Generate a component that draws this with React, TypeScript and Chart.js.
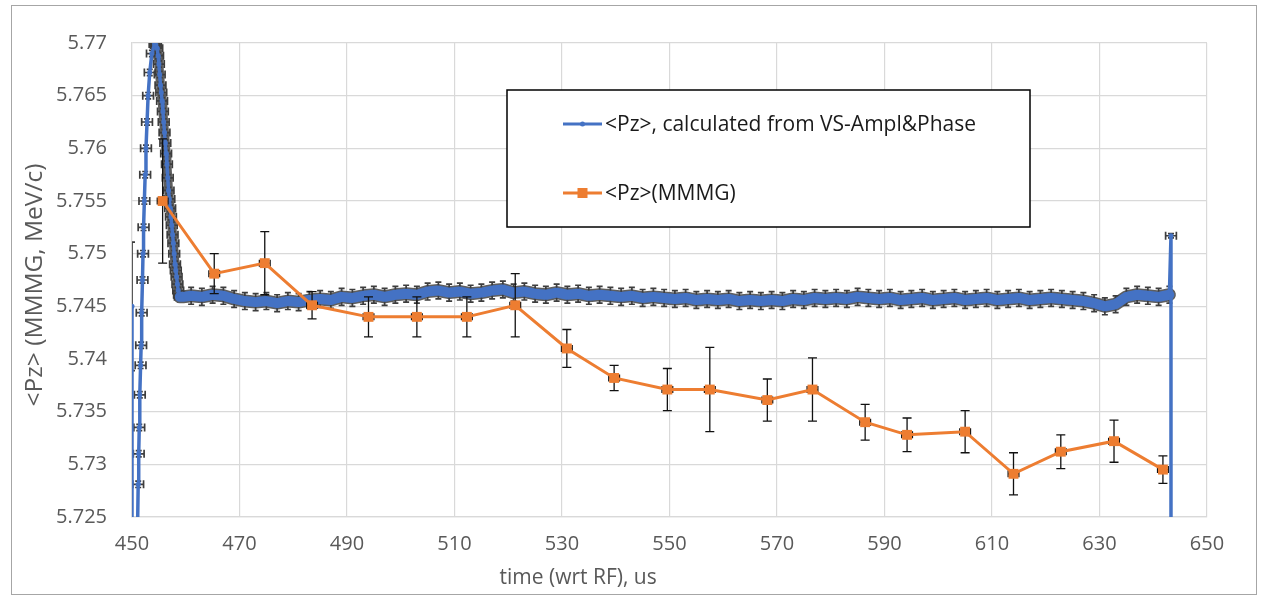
import React, { useEffect, useRef } from "react";
import { Chart, registerables } from "chart.js";

Chart.register(...registerables);

// ---------- data ----------
const xTicks = [450, 470, 490, 510, 530, 550, 570, 590, 610, 630, 650];
const xTickLabels = ["450", "470", "490", "510", "530", "550", "570", "590", "610", "630", "650"];
const yTicks = [5.725, 5.73, 5.735, 5.74, 5.745, 5.75, 5.755, 5.76, 5.765, 5.77];
const yTickLabels = ["5.725", "5.73", "5.735", "5.74", "5.745", "5.75", "5.755", "5.76", "5.765", "5.77"];

const seriesNames = ["<Pz>, calculated from VS-Ampl&Phase", "<Pz>(MMMG)"];
const xAxisTitle = "time (wrt RF), us";
const yAxisTitle = "<Pz> (MMMG, MeV/c)";

// <Pz> calculated from VS-Ampl&Phase
// start of the record
const startX = [450, 450, 451.0];
const startY = [5.745, 5.70, 5.715];
const startErrX = [0, 0, 0];
const startErrY = [0.0061, 0, 0];

// rising edge and peak
const riseX = [
  451.05, 451.15, 451.25, 451.35, 451.45, 451.6, 451.7, 451.8,
  451.95, 452.05, 452.15, 452.3, 452.45, 452.6, 452.8,
  453.0, 453.3, 453.7, 454.2,
];
const riseY = [
  5.7245, 5.7281, 5.731, 5.7335, 5.7366, 5.7394, 5.7413, 5.7444,
  5.7475, 5.75, 5.7525, 5.755, 5.7575, 5.76, 5.7625,
  5.765, 5.7672, 5.769, 5.7699,
];
// falling edge
const fallX = [
  454.45, 454.7, 454.85, 455.0, 455.15, 455.3, 455.45, 455.6, 455.75, 455.9, 456.05, 456.2, 456.35, 456.5, 456.65,
  456.8, 456.95, 457.1, 457.25, 457.4, 457.55, 457.7, 457.85, 458.0, 458.15, 458.3, 458.45, 458.6, 458.75, 458.9,
  459.5,
];
const fallY = [
  5.7698, 5.7695, 5.7688, 5.768, 5.767, 5.766, 5.7653, 5.7645, 5.7635, 5.7625, 5.7615, 5.7605, 5.7595, 5.7585, 5.7572,
  5.756, 5.7552, 5.7543, 5.7535, 5.7527, 5.7518, 5.751, 5.75, 5.749, 5.7484, 5.7478, 5.7471, 5.7465, 5.7461, 5.7459,
  5.7459,
];
const spikeErrX = 1.0;
const spikeErrY = 0.0003;

// flat (noisy) part
const flatX = [
  461, 463, 465, 467, 469, 471, 473, 475, 477, 479,
  481, 483, 485, 487, 489, 491, 493, 495, 497, 499,
  501, 503, 505, 507, 509, 511, 513, 515, 517, 519,
  521, 523, 525, 527, 529, 531, 533, 535, 537, 539,
  541, 543, 545, 547, 549, 551, 553, 555, 557, 559,
  561, 563, 565, 567, 569, 571, 573, 575, 577, 579,
  581, 583, 585, 587, 589, 591, 593, 595, 597, 599,
  601, 603, 605, 607, 609, 611, 613, 615, 617, 619,
  621, 623, 625, 627, 629, 631, 633, 635, 637, 639,
  641, 643,
];
const flatY = [
  5.746, 5.7459, 5.7461, 5.746, 5.7457, 5.7455, 5.7454, 5.7455, 5.7453, 5.7455,
  5.7454, 5.7456, 5.7457, 5.7456, 5.7459, 5.7458, 5.746, 5.7461, 5.7459, 5.7461,
  5.7462, 5.7461, 5.7464, 5.7465, 5.7463, 5.7464, 5.7462, 5.7463, 5.7465, 5.7466,
  5.7463, 5.7464, 5.7462, 5.7461, 5.7463, 5.7461, 5.7462, 5.746, 5.7461, 5.746,
  5.7459, 5.746, 5.7458, 5.7459, 5.7458, 5.7457, 5.7458, 5.7456, 5.7457, 5.7456,
  5.7457, 5.7455, 5.7456, 5.7455, 5.7456, 5.7455, 5.7457, 5.7456, 5.7458, 5.7457,
  5.7458, 5.7457, 5.7459, 5.7458, 5.7457, 5.7458, 5.7456, 5.7457, 5.7458, 5.7456,
  5.7457, 5.7458, 5.7456, 5.7457, 5.7458, 5.7456, 5.7457, 5.7458, 5.7456, 5.7457,
  5.7458, 5.7457, 5.7456, 5.7455, 5.7453, 5.745, 5.7452, 5.7459, 5.7461, 5.746,
  5.7459, 5.7461,
];
const flatErrY = 0.0008;

// end of the record
const endX = [643.3, 643.3];
const endY = [5.7517, 5.70];
const endErrX = [1.0, 0];
const endErrY = [0.0002, 0];

// <Pz>(MMMG)
const orangeX = [455.7, 465.3, 474.7, 483.5, 494.0, 503.0, 512.3, 521.3, 530.9, 539.7, 549.6, 557.5, 568.2, 576.6, 586.4, 594.2, 605.0, 614.0, 622.8, 632.7, 641.8];
const orangeY = [5.755, 5.7481, 5.7491, 5.7451, 5.744, 5.744, 5.744, 5.7451, 5.741, 5.7382, 5.7371, 5.7371, 5.7361, 5.7371, 5.734, 5.7328, 5.7331, 5.7291, 5.7312, 5.7322, 5.7295];
const orangeErrY = [0.0059, 0.0019, 0.003, 0.0013, 0.0019, 0.0019, 0.0019, 0.003, 0.0018, 0.0012, 0.002, 0.004, 0.002, 0.003, 0.0017, 0.0016, 0.002, 0.002, 0.0016, 0.002, 0.0013];
const orangeErrX = 1.0;

const BLUE = "#4472C4";
const ORANGE = "#ED7D31";
const PEAK_X = 454.2;
const FLAT_START = 458.85;
const FLAT_END = 643.05;

// ---------- plugins ----------
const errorBarPlugin = {
  id: "errorBars",
  beforeDatasetDraw(chart: any, args: any) {
    const ds: any = chart.data.datasets[args.index];
    if (!ds.errY && !ds.errX) return;
    const { ctx, chartArea } = chart;
    const xs = chart.scales.x;
    const ys = chart.scales.y;
    ctx.save();
    ctx.beginPath();
    ctx.rect(chartArea.left, chartArea.top, chartArea.right - chartArea.left, chartArea.bottom - chartArea.top);
    ctx.clip();
    ctx.strokeStyle = ds.errColor;
    ctx.lineWidth = ds.errWidth;
    ds.data.forEach((p: any, i: number) => {
      const px = xs.getPixelForValue(p.x);
      const py = ys.getPixelForValue(p.y);
      const ey = ds.errY ? ds.errY[i] : 0;
      const ex = ds.errX ? ds.errX[i] : 0;
      ctx.beginPath();
      if (ey) {
        const t = ys.getPixelForValue(p.y + ey);
        const b = ys.getPixelForValue(p.y - ey);
        const c = ds.errCapY;
        ctx.moveTo(px, t);
        ctx.lineTo(px, b);
        ctx.moveTo(px - c, t);
        ctx.lineTo(px + c, t);
        ctx.moveTo(px - c, b);
        ctx.lineTo(px + c, b);
      }
      if (ex) {
        const l = xs.getPixelForValue(p.x - ex);
        const r = xs.getPixelForValue(p.x + ex);
        const c = ds.errCapX;
        ctx.moveTo(l, py);
        ctx.lineTo(r, py);
        ctx.moveTo(l, py - c);
        ctx.lineTo(l, py + c);
        ctx.moveTo(r, py - c);
        ctx.lineTo(r, py + c);
      }
      ctx.stroke();
    });
    ctx.restore();
  },
};

const axisTitlePlugin = {
  id: "axisTitles",
  afterDraw(chart: any) {
    const { ctx } = chart;
    const xs = chart.scales.x;
    ctx.save();
    ctx.fillStyle = "#595959";
    ctx.textAlign = "center";
    ctx.textBaseline = "middle";
    ctx.font = "21px 'Open Sans', sans-serif";
    ctx.fillText(xAxisTitle, xs.getPixelForValue(533), 572);
    ctx.translate(23, 279);
    ctx.rotate(-Math.PI / 2);
    ctx.font = "24.5px 'Open Sans', sans-serif";
    ctx.fillText(yAxisTitle, 0, 0);
    ctx.restore();
  },
};

const boxLegendPlugin = {
  id: "boxLegend",
  afterDraw(chart: any) {
    const { ctx } = chart;
    const bx = 495, by = 84, bw = 523, bh = 137;
    ctx.save();
    ctx.fillStyle = "#ffffff";
    ctx.fillRect(bx, by, bw, bh);
    ctx.strokeStyle = "#000000";
    ctx.lineWidth = 1.5;
    ctx.strokeRect(bx, by, bw, bh);
    const rows = [
      { y: 118, color: BLUE, marker: "dot", text: seriesNames[0] },
      { y: 187, color: ORANGE, marker: "square", text: seriesNames[1] },
    ];
    ctx.font = "21px 'Open Sans', sans-serif";
    ctx.textBaseline = "middle";
    rows.forEach((r) => {
      ctx.strokeStyle = r.color;
      ctx.lineWidth = 3;
      ctx.beginPath();
      ctx.moveTo(551, r.y);
      ctx.lineTo(590, r.y);
      ctx.stroke();
      ctx.fillStyle = r.color;
      if (r.marker === "dot") {
        ctx.beginPath();
        ctx.arc(570.5, r.y, 2.5, 0, Math.PI * 2);
        ctx.fill();
      } else {
        ctx.fillRect(565.5, r.y - 5, 10, 10);
      }
      ctx.fillStyle = "#1a1a1a";
      ctx.fillText(r.text, 593, r.y + 1);
    });
    ctx.restore();
  },
};

export default function App() {
  const canvasRef = useRef<HTMLCanvasElement | null>(null);

  useEffect(() => {
    if (!canvasRef.current) return;
    Chart.defaults.font.family = "'Open Sans', sans-serif";

    const spikeXs = [...riseX, ...fallX];
    const blueX = [...startX, ...spikeXs, ...flatX, ...endX];
    const blueY = [...startY, ...riseY, ...fallY, ...flatY, ...endY];
    const blueErrX = [...startErrX, ...spikeXs.map(() => spikeErrX), ...flatX.map(() => 0), ...endErrX];
    const blueErrY = [...startErrY, ...spikeXs.map(() => spikeErrY), ...flatX.map(() => flatErrY), ...endErrY];

    const blueData = blueX.map((x, i) => ({ x, y: blueY[i] }));
    const shadeData = blueData.filter((p) => p.x >= PEAK_X && p.x <= FLAT_END);
    const orangeData = orangeX.map((x, i) => ({ x, y: orangeY[i] }));

    const chart = new Chart(canvasRef.current, {
      type: "line",
      data: {
        datasets: [
          {
            label: seriesNames[1],
            data: orangeData,
            borderColor: ORANGE,
            backgroundColor: ORANGE,
            borderWidth: 3,
            pointStyle: "rect",
            pointRadius: 7,
            pointBorderWidth: 0,
            pointBackgroundColor: ORANGE,
            tension: 0,
            errY: orangeErrY,
            errX: orangeData.map(() => orangeErrX),
            errColor: "#111111",
            errWidth: 1.3,
            errCapY: 4.5,
            errCapX: 3.5,
          } as any,
          {
            label: seriesNames[0],
            data: blueData,
            borderColor: BLUE,
            backgroundColor: BLUE,
            borderWidth: 3,
            borderJoinStyle: "round",
            borderCapStyle: "round",
            pointRadius: (c: any) => (c.raw && (c.raw.x < FLAT_START || c.raw.x > FLAT_END) ? 2.5 : 0),
            pointBorderWidth: 0,
            pointBackgroundColor: BLUE,
            tension: 0,
            segment: {
              borderWidth: (c: any) => (c.p0.parsed.x >= FLAT_START && c.p1.parsed.x <= FLAT_END ? 10 : 3.5),
            },
            errY: blueErrY,
            errX: blueErrX,
            errColor: "#3d3d3d",
            errWidth: 1.7,
            errCapY: 3,
            errCapX: 4,
          } as any,
          {
            label: "shade",
            data: shadeData,
            borderColor: "#5e5e5e",
            borderWidth: 13,
            borderJoinStyle: "round",
            borderCapStyle: "round",
            pointRadius: 0,
            tension: 0,
            segment: {
              borderWidth: (c: any) => (c.p0.parsed.x >= FLAT_START ? 13 : 9),
            },
          } as any,
        ],
      },
      options: {
        animation: false,
        responsive: true,
        maintainAspectRatio: false,
        layout: { padding: { top: 29, right: 49, left: 0, bottom: 0 } },
        plugins: {
          legend: { display: false },
          tooltip: { enabled: false },
        },
        scales: {
          x: {
            type: "linear",
            min: 450,
            max: 650,
            afterBuildTicks: (s: any) => {
              s.ticks = xTicks.map((v) => ({ value: v }));
            },
            afterFit: (s: any) => {
              s.height = 77;
            },
            ticks: {
              padding: 15,
              color: "#595959",
              font: { size: 20 },
              maxRotation: 0,
              autoSkip: false,
              callback: (_v: any, i: number) => xTickLabels[i],
            },
            grid: { color: "#d9d9d9", lineWidth: 1.2, drawTicks: false },
            border: { color: "#d9d9d9", width: 1.2 },
          },
          y: {
            type: "linear",
            min: 5.725,
            max: 5.77,
            afterBuildTicks: (s: any) => {
              s.ticks = yTicks.map((v) => ({ value: v }));
            },
            afterFit: (s: any) => {
              s.width = 120;
            },
            ticks: {
              padding: 25,
              color: "#595959",
              font: { size: 20 },
              autoSkip: false,
              callback: (_v: any, i: number) => yTickLabels[i],
            },
            grid: { color: "#d9d9d9", lineWidth: 1.2, drawTicks: false },
            border: { color: "#d9d9d9", width: 1.2 },
          },
        },
      },
      plugins: [errorBarPlugin, axisTitlePlugin, boxLegendPlugin],
    });

    return () => chart.destroy();
  }, []);

  return (
    <div
      style={{
        position: "absolute",
        left: 11,
        top: 5,
        width: 1246,
        height: 590,
        border: "1px solid #a6a6a6",
        boxSizing: "border-box",
        background: "#ffffff",
      }}
    >
      <div style={{ position: "relative", width: 1244, height: 588 }}>
        <canvas ref={canvasRef} />
      </div>
    </div>
  );
}
